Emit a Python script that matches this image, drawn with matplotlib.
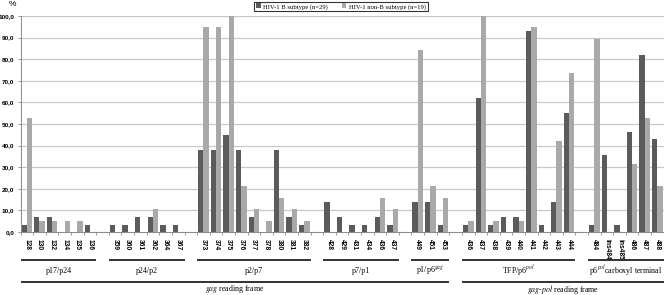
import numpy as np
import matplotlib
matplotlib.use('Agg')
import matplotlib.pyplot as plt
from matplotlib.transforms import blended_transform_factory

plt.rcParams['mathtext.fontset'] = 'stix'

group_names = ['p17/p24', 'p24/p2', 'p2/p7', 'p7/p1',
               r'p1/p6$^{\mathit{gag}}$', r'TFP/p6$^{\mathit{pol}}$',
               r'p6$^{\mathit{pol}}$carboxyl terminal']
group_positions = [
    ['128', '130', '132', '134', '135', '136'],
    ['359', '360', '361', '362', '364', '367'],
    ['373', '374', '375', '376', '377', '378', '380', '381', '382'],
    ['428', '429', '431', '434', '436', '437'],
    ['449', '451', '453'],
    ['436', '437', '438', '439', '440', '441', '442', '443', '444'],
    ['484', 'ins484', 'ins485', '486', '487', '488'],
]
b_subtype = [
    [3.4, 6.9, 6.9, 0, 0, 3.4],
    [3.4, 3.4, 6.9, 6.9, 3.4, 3.4],
    [37.9, 37.9, 44.8, 37.9, 6.9, 0, 37.9, 6.9, 3.4],
    [13.8, 6.9, 3.4, 3.4, 6.9, 3.4],
    [13.8, 13.8, 3.4],
    [3.4, 62.1, 3.4, 6.9, 6.9, 93.1, 3.4, 13.8, 55.2],
    [3.4, 35.7, 3.4, 46.4, 82.1, 42.9],
]
non_b_subtype = [
    [52.6, 5.3, 5.3, 5.3, 5.3, 0],
    [0, 0, 0, 10.5, 0, 0],
    [94.7, 94.7, 100.0, 21.1, 10.5, 5.3, 15.8, 10.5, 5.3],
    [0, 0, 0, 0, 15.8, 10.5],
    [84.2, 21.1, 15.8],
    [5.3, 100.0, 5.3, 0, 5.3, 94.7, 0, 42.1, 73.7],
    [89.5, 0, 0, 31.6, 52.6, 21.1],
]
frame_names = [r'$\mathit{gag}$ reading frame', r'$\mathit{gag}$-$\mathit{pol}$ reading frame']
frame_groups = [[0, 1, 2, 3, 4], [5, 6]]
legend_labels = ['HIV-1 B subtype (n=29)', 'HIV-1 non-B subtype (n=19)']
yticks = [0, 10, 20, 30, 40, 50, 60, 70, 80, 90, 100]

dark = '#5b5b5b'
light = '#a9a9a9'

fig = plt.figure(figsize=(6.64, 2.95), dpi=100)
ax = fig.add_axes([0.031, 0.2136, 0.9685, 0.7322])

xs, labels, bvals, nvals = [], [], [], []
group_spans = []
slot = 0
for g, pos in enumerate(group_positions):
    start = slot
    for i, p in enumerate(pos):
        xs.append(slot)
        labels.append(p)
        bvals.append(b_subtype[g][i])
        nvals.append(non_b_subtype[g][i])
        slot += 1
    group_spans.append((start - 0.5, slot - 0.5))
    slot += 1
nslots = slot - 1
xs = np.array(xs, dtype=float)

w = 0.42
ax.bar(xs - w / 2, bvals, width=w, color=dark, label=legend_labels[0], zorder=3)
ax.bar(xs + w / 2, nvals, width=w, color=light, label=legend_labels[1], zorder=3)

ax.set_xlim(-0.5, nslots - 0.5)
ax.set_ylim(0, 100)
ax.set_yticks(yticks)
ax.set_yticklabels([f'{v:.1f}'.replace('.', ',') for v in yticks],
                   fontsize=4.6, fontweight='bold', family='Liberation Sans')
ax.yaxis.grid(True, color='#c8c8c8', linewidth=0.9, zorder=0)
ax.set_axisbelow(True)
ax.set_xticks(xs)
ax.set_xticklabels(labels, rotation=270, fontsize=4.8, fontweight='bold',
                   family='Liberation Sans', va='top', ha='center')
ax.tick_params(axis='x', length=0, pad=5)
ax.tick_params(axis='y', length=2.5, width=0.6, color='#888888', pad=2)
boundaries = np.arange(-0.5, nslots, 1.0)
ax.set_xticks(boundaries, minor=True)
ax.tick_params(axis='x', which='minor', length=2.5, width=0.6, color='#888888')
for s in ['top', 'right']:
    ax.spines[s].set_visible(False)
ax.spines['left'].set_color('#888888')
ax.spines['left'].set_linewidth(0.7)
ax.spines['bottom'].set_color('#888888')
ax.spines['bottom'].set_linewidth(0.7)

tr = blended_transform_factory(ax.transData, fig.transFigure)
y_gline = 1 - 260 / 295
y_glabel = 1 - 271 / 295
y_fline = 1 - 281.5 / 295
y_flabel = 1 - 289 / 295
for (a, b), name in zip(group_spans, group_names):
    ax.plot([a, b], [y_gline, y_gline], transform=tr, color='#222222', lw=1.3,
            clip_on=False, solid_capstyle='butt')
    ax.text((a + b) / 2, y_glabel, name, transform=tr, ha='center', va='center',
            fontsize=5.7, family='Liberation Serif')
for name, gidx in zip(frame_names, frame_groups):
    a = group_spans[gidx[0]][0]
    b = group_spans[gidx[-1]][1]
    ax.plot([a, b], [y_fline, y_fline], transform=tr, color='#222222', lw=1.3,
            clip_on=False, solid_capstyle='butt')
    ax.text((a + b) / 2, y_flabel, name, transform=tr, ha='center', va='center',
            fontsize=5.7, family='Liberation Serif')

fig.text(12 / 664, 1 - 5 / 295, '%', fontsize=6, ha='center', va='center',
         family='Liberation Sans')

leg = fig.legend(loc='center', bbox_to_anchor=(341 / 664, 1 - 6.5 / 295), ncol=2,
                 prop={'family': 'Liberation Serif', 'size': 4.8},
                 frameon=True, fancybox=False, edgecolor='black',
                 handlelength=0.7, handleheight=0.7, handletextpad=0.4,
                 columnspacing=2.0, borderpad=0.25, borderaxespad=0)
leg.get_frame().set_linewidth(0.8)

fig.savefig('out.png', dpi=100)
